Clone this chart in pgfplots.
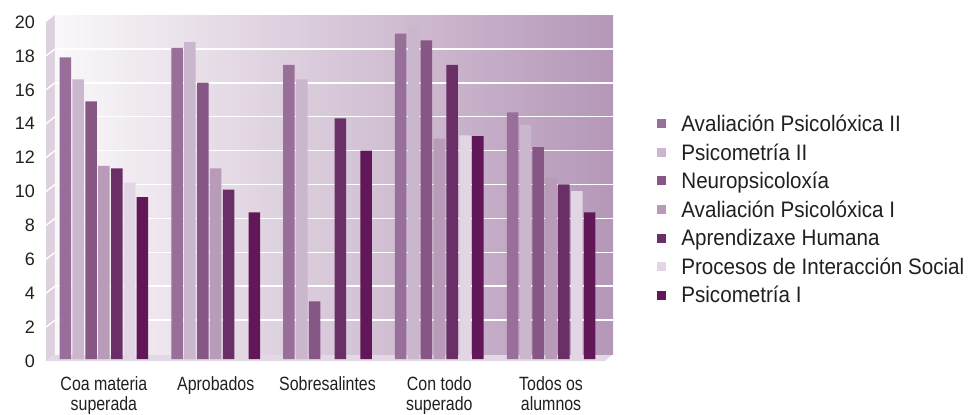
\documentclass[border=0pt]{standalone}
\usepackage{fontspec}
\setmainfont{Liberation Sans}
\newfontfamily\legfont{Liberation Sans}[FakeStretch=0.92]
\newfontfamily\xlabfont{Liberation Sans}[FakeStretch=0.83]
\usepackage{pgfplots}
\pgfplotsset{compat=1.18}
\definecolor{cA}{HTML}{976F98}
\definecolor{cB}{HTML}{CAB7CD}
\definecolor{cC}{HTML}{865784}
\definecolor{cD}{HTML}{B89AB9}
\definecolor{cE}{HTML}{6B2F68}
\definecolor{cF}{HTML}{E2D6E5}
\definecolor{cG}{HTML}{621858}
\definecolor{bgL}{HTML}{FAF8FA}
\definecolor{bgR}{HTML}{B597B8}
\definecolor{wallc}{HTML}{DDD0DF}
\definecolor{floorc}{HTML}{E3D8E6}
\definecolor{txt}{HTML}{231F20}
\begin{document}
\begin{tikzpicture}[x=1pt,y=1pt]
\useasboundingbox (0,0) rectangle (484,207);
% side wall and floor
\fill[wallc] (23,26.5) -- (27.5,30) -- (27.5,199.5) -- (23,196) -- cycle;
\fill[floorc] (23,26.5) -- (27.5,30) -- (306.5,30) -- (302.5,26.5) -- cycle;
\foreach \v in {2,4,...,18} \draw[white, line width=0.7pt] (23,26.5+\v*8.475) -- (27.5,30+\v*8.475);
% back wall
\begin{axis}[at={(27.5pt,30pt)}, anchor=south west, scale only axis,
  width=279pt, height=169.5pt, xmin=0, xmax=1, ymin=0, ymax=20,
  axis line style={draw=none}, major tick length=0pt,
  xtick=\empty, ytick={2,4,...,18}, yticklabels={},
  ymajorgrids, grid style={white, line width=0.75pt},
  axis background/.style={left color=bgL, right color=bgR}]
\end{axis}
% bars
\begin{axis}[at={(24pt,27.5pt)}, anchor=south west, scale only axis,
  width=279.5pt, height=169.5pt, xmin=-0.5, xmax=4.5, ymin=0, ymax=20,
  ybar=0.68pt, bar width=5.75pt,
  axis line style={draw=none}, major tick length=0pt,
  xtick={0,1,2,3,4},
  xticklabels={{Coa materia\\superada},Aprobados,Sobresalintes,{Con todo\\superado},{Todos os\\alumnos}},
  ytick={0,2,...,20},
  /pgf/number format/assume math mode=true,
  yticklabel style={font=\fontsize{9}{10}\selectfont, xshift=-3pt, yshift=-1pt, text=txt},
  xticklabel style={font=\xlabfont\fontsize{9.6}{10}\selectfont, align=center, yshift=-5.25pt, text=txt},
  legend style={at={(1.0894,0.7257)}, anchor=north west, draw=none, fill=none,
    inner sep=0pt, row sep=4pt, column sep=7.5pt,
    font=\legfont\fontsize{11.2}{12}\selectfont,
    nodes={inner sep=0pt, text height=9pt, text depth=1.3pt, text=txt}},
  legend cell align=left,
  legend image code/.code={\fill[#1,draw=none] (0pt,-2.25pt) rectangle (4.5pt,2.25pt);},
  clip=false]
\addplot[fill=cA, draw=none] coordinates {(0,17.8) (1,18.35) (2,17.35) (3,19.2) (4,14.55)};
\addplot[fill=cB, draw=none] coordinates {(0,16.5) (1,18.7) (2,16.5) (3,19.7) (4,13.8)};
\addplot[fill=cC, draw=none] coordinates {(0,15.2) (1,16.3) (2,3.4) (3,18.8) (4,12.5)};
\addplot[fill=cD, draw=none] coordinates {(0,11.4) (1,11.25) (3,13.0) (4,10.7)};
\addplot[fill=cE, draw=none] coordinates {(0,11.25) (1,10.0) (2,14.2) (3,17.35) (4,10.3)};
\addplot[fill=cF, draw=none] coordinates {(0,10.4) (3,13.2) (4,9.9)};
\addplot[fill=cG, draw=none] coordinates {(0,9.55) (1,8.65) (2,12.3) (3,13.15) (4,8.65)};
\legend{Avaliación Psicolóxica II,Psicometría II,Neuropsicoloxía,Avaliación Psicolóxica I,Aprendizaxe Humana,Procesos de Interacción Social,Psicometría I}
\end{axis}
\end{tikzpicture}
\end{document}
